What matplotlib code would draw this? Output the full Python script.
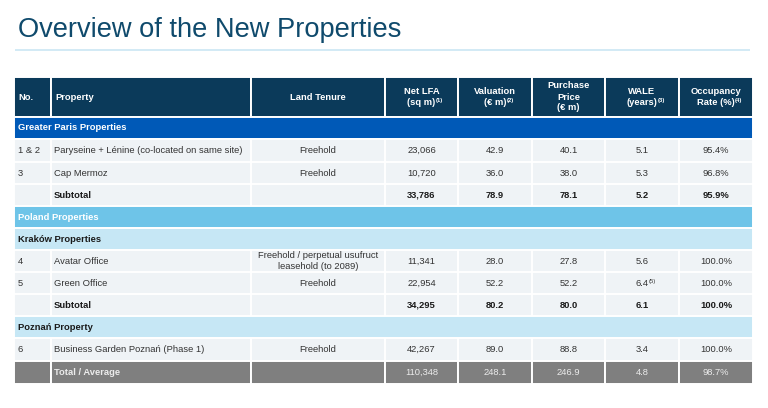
import matplotlib
matplotlib.use("Agg")
import matplotlib.pyplot as plt
from matplotlib.patches import Rectangle

plt.rcParams['font.family'] = ['Liberation Sans', 'DejaVu Sans']

# ---------------- data ----------------
title = "Overview of the New Properties"

header_lines = [
    [("No.", "")],
    [("Property", "")],
    [("Land Tenure", "")],
    [("Net LFA", ""), ("(sq m)", "(1)")],
    [("Valuation", ""), ("(€ m)", "(2)")],
    [("Purchase", ""), ("Price", ""), ("(€ m)", "")],
    [("WALE", ""), ("(years)", "(3)")],
    [("Occupancy", ""), ("Rate (%)", "(4)")],
]

# row kinds: sec1 (Greater Paris), sec2 (Poland), sec3 (city), data, sub, total
row_kinds = ["sec1", "data", "data", "sub", "sec2", "sec3",
             "data", "data", "sub", "sec3", "data", "total"]
section_labels = {0: "Greater Paris Properties", 4: "Poland Properties",
                  5: "Kraków Properties", 9: "Poznań Property"}

nos = ["1 & 2", "3", "", "4", "5", "", "6", ""]
properties = ["Paryseine + Lénine (co-located on same site)", "Cap Mermoz", "Subtotal",
              "Avatar Office", "Green Office", "Subtotal",
              "Business Garden Poznań (Phase 1)", "Total / Average"]
land_tenure = ["Freehold", "Freehold", "",
               "Freehold / perpetual usufruct\nleasehold (to 2089)", "Freehold", "",
               "Freehold", ""]
net_lfa = [23066, 10720, 33786, 11341, 22954, 34295, 42267, 110348]
valuation = [42.9, 36.0, 78.9, 28.0, 52.2, 80.2, 89.0, 248.1]
purchase_price = [40.1, 38.0, 78.1, 27.8, 52.2, 80.0, 88.8, 246.9]
wale = [5.1, 5.3, 5.2, 5.6, 6.4, 6.1, 3.4, 4.8]
wale_sup = ["", "", "", "", "(5)", "", "", ""]
occupancy = [95.4, 96.8, 95.9, 100.0, 100.0, 100.0, 100.0, 98.7]

# ---------------- layout ----------------
W, H = 768, 408
fig = plt.figure(figsize=(W / 100, H / 100), dpi=100)
ax = fig.add_axes([0, 0, 1, 1])
ax.set_xlim(0, W)
ax.set_ylim(H, 0)
ax.axis("off")

col_x = [14, 51, 251, 385, 458, 532, 605, 679, 753]
header_y = (77, 117)
row_y = [117, 139, 162, 184, 206, 228, 250, 272, 294, 316, 338, 361, 384]

C_HEAD = "#0b3a5a"
C_SEC1 = "#0059b7"
C_SEC2 = "#6ec4e8"
C_SEC3 = "#c6e7f5"
C_DATA = "#eff3f6"
C_TOT = "#7f7f7f"
C_TXT = "#333333"
FS = 6.75
LW = 1.4
SP = 11

ax.text(18, 37, title, fontsize=19.6, color="#0f4a6c", va="baseline", ha="left")
ax.plot([15, 750], [50, 50], color="#d2eaf5", lw=1.4, solid_capstyle="butt")


def sup_text(t, sup, color, weight):
    if sup:
        ax.annotate(sup, xy=(1, 0.95), xycoords=t, xytext=(0.2, 0),
                    textcoords="offset points", fontsize=4.2, color=color,
                    fontweight=weight, va="top", ha="left")


def cell(x0, x1, y0, y1, color):
    ax.add_patch(Rectangle((x0, y0), x1 - x0, y1 - y0, facecolor=color,
                           edgecolor="white", lw=LW))


# header
for i, lines in enumerate(header_lines):
    x0, x1 = col_x[i], col_x[i + 1]
    cell(x0, x1, header_y[0], header_y[1], C_HEAD)
    n = len(lines)
    ymid = (header_y[0] + header_y[1]) / 2
    for k, (txt, sup) in enumerate(lines):
        yy = ymid + (k - (n - 1) / 2) * SP
        if i < 2:
            t = ax.text(x0 + 4, yy, txt, fontsize=FS, color="white",
                        fontweight="bold", ha="left", va="center")
        else:
            t = ax.text((x0 + x1) / 2, yy, txt, fontsize=FS, color="white",
                        fontweight="bold", ha="center", va="center")
        sup_text(t, sup, "white", "bold")

# body
di = 0
for r, kind in enumerate(row_kinds):
    y0, y1 = row_y[r], row_y[r + 1]
    ym = (y0 + y1) / 2
    if kind.startswith("sec"):
        col = {"sec1": C_SEC1, "sec2": C_SEC2, "sec3": C_SEC3}[kind]
        tcol = "white" if kind in ("sec1", "sec2") else "#1a1a1a"
        cell(col_x[0], col_x[-1], y0, y1, col)
        ax.text(col_x[0] + 4, ym, section_labels[r], fontsize=FS, color=tcol,
                fontweight="bold", ha="left", va="center")
        continue
    bg = C_TOT if kind == "total" else C_DATA
    for c in range(8):
        cell(col_x[c], col_x[c + 1], y0, y1, bg)
    if kind == "total":
        tcol, lw_lab, lw_num = "#ececec", "bold", "normal"
    elif kind == "sub":
        tcol, lw_lab, lw_num = "#1a1a1a", "bold", "bold"
    else:
        tcol, lw_lab, lw_num = C_TXT, "normal", "normal"
    ax.text(col_x[0] + 4, ym, nos[di], fontsize=FS, color=tcol, ha="left", va="center")
    ax.text(col_x[1] + 3, ym, properties[di], fontsize=FS, color=tcol,
            fontweight=lw_lab, ha="left", va="center")
    lt_lines = land_tenure[di].split("\n")
    for k, line in enumerate(lt_lines):
        yy = ym + (k - (len(lt_lines) - 1) / 2) * SP
        ax.text((col_x[2] + col_x[3]) / 2, yy, line, fontsize=FS, color=tcol,
                ha="center", va="center")
    vals = [f"{net_lfa[di]:,.0f}", f"{valuation[di]:.1f}", f"{purchase_price[di]:.1f}",
            f"{wale[di]:.1f}", f"{occupancy[di]:.1f}%"]
    for k, v in enumerate(vals):
        c = 3 + k
        t = ax.text((col_x[c] + col_x[c + 1]) / 2, ym, v, fontsize=FS, color=tcol,
                    fontweight=lw_num, ha="center", va="center")
        if k == 3:
            sup_text(t, wale_sup[di], tcol, lw_num)
    di += 1

fig.savefig("out.png", dpi=100, facecolor="white")
